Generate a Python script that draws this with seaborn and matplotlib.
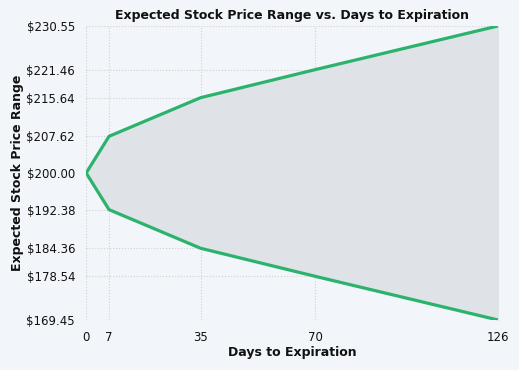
#!/usr/bin/env python3
"""Expected stock price range vs. days to expiration"""

import pandas as pd

import matplotlib
matplotlib.use('agg')
import matplotlib.pyplot as plt

import seaborn as sns

days = [0, 7, 35, 70, 126]
upper = [200.00, 207.62, 215.64, 221.46, 230.55]
lower = [200.00, 192.38, 184.36, 178.54, 169.45]

BG = '#f2f5f9'
GREEN = '#2bb36d'
INK = '#111111'


def main():
    sns.set_style('whitegrid')
    plt.rcParams['font.family'] = ['DejaVu Sans']
    dfrm = pd.DataFrame({'days': days, 'upper': upper, 'lower': lower})

    fig = plt.figure(figsize=(5.19, 3.70), dpi=100, facecolor=BG)
    axes = fig.add_axes([0.166, 0.135, 0.794, 0.795])
    axes.set_facecolor(BG)

    axes.fill_between(dfrm['days'], dfrm['lower'], dfrm['upper'], color='#dfe2e6', zorder=1)
    sns.lineplot(data=dfrm, x='days', y='upper', color=GREEN, lw=2.3, ax=axes, zorder=3)
    sns.lineplot(data=dfrm, x='days', y='lower', color=GREEN, lw=2.3, ax=axes, zorder=3)

    ticks_y = sorted(upper + lower[1:])
    axes.set_xticks(days)
    axes.set_yticks(ticks_y)
    axes.set_yticklabels(['${:.2f}'.format(v) for v in ticks_y])
    axes.set_xlim(days[0], days[-1])
    axes.set_ylim(min(lower), max(upper))

    axes.grid(True, linestyle=':', color='#d0d0d0', lw=0.8)
    for spine in axes.spines.values():
        spine.set_visible(False)
    axes.tick_params(axis='y', direction='in', length=3, width=0.8, color='#888888',
                     labelsize=8.5, pad=8, labelcolor=INK)
    axes.tick_params(axis='x', length=0, labelsize=8.5, pad=8, labelcolor=INK)

    axes.set_title('Expected Stock Price Range vs. Days to Expiration',
                   fontsize=9, fontweight='bold', pad=5, color=INK)
    axes.set_xlabel('Days to Expiration', fontsize=9, fontweight='bold', labelpad=1,
                    color=INK)
    axes.set_ylabel('Expected Stock Price Range', fontsize=9, fontweight='bold',
                    labelpad=1.5, color=INK)

    fig.savefig('out.png', dpi=100, facecolor=BG)


if __name__ == '__main__':
    main()
